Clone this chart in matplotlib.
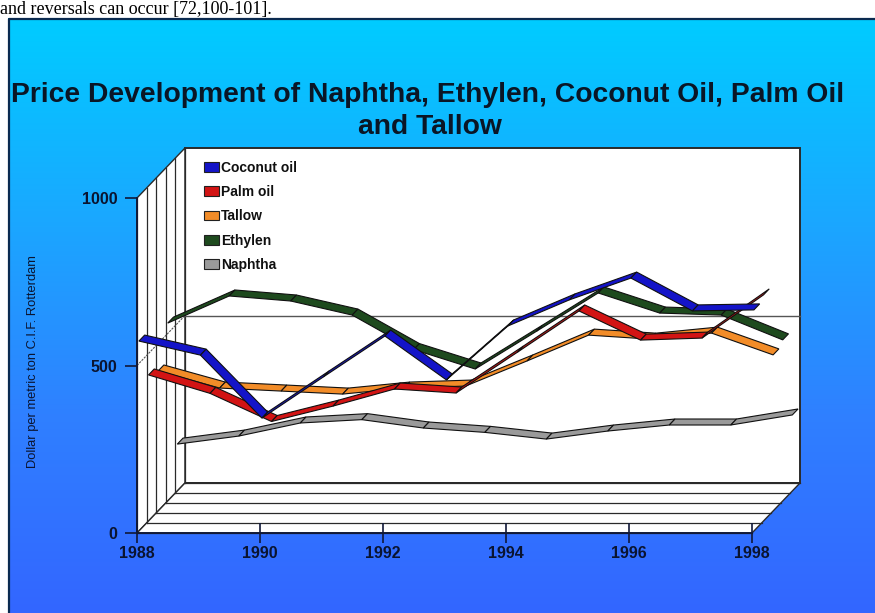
import numpy as np
import matplotlib
matplotlib.use("Agg")
import matplotlib.pyplot as plt
from matplotlib.patches import Polygon, Patch, Rectangle
from matplotlib.colors import LinearSegmentedColormap

# ---- data (US$ per metric ton) ----
years = [1988, 1989, 1990, 1991, 1992, 1993, 1994, 1995, 1996, 1997, 1998]
coconut = [567, 525, 337, 460, 582, 451, 612, 690, 755, 657, 660]
palm = [436, 381, 297, 343, 394, 382, 504, 627, 540, 546, 675]
tallow = [418, 367, 358, 349, 367, 373, 448, 525, 513, 531, 466]
ethylen = [531, 612, 597, 555, 452, 394, 507, 621, 561, 555, 481]
naphtha = [140, 164, 203, 213, 188, 175, 155, 179, 197, 197, 227]

series_names = ["Coconut oil", "Palm oil", "Tallow", "Ethylen", "Naphtha"]
series_values = [coconut, palm, tallow, ethylen, naphtha]
series_colors = ["#1414c8", "#d21414", "#f28c28", "#1e4a1e", "#9a9a9a"]

x_ticks = [1988, 1990, 1992, 1994, 1996, 1998]
y_ticks = [0, 500, 1000]

W, H = 875, 613
fig = plt.figure(figsize=(W / 100, H / 100), dpi=100)

# ---- page background with blue gradient panel ----
bg = fig.add_axes([0, 0, 1, 1])
bg.set_xlim(0, W)
bg.set_ylim(H, 0)
bg.axis("off")
bg.add_patch(Rectangle((0, 0), W, H, facecolor="white", edgecolor="none"))
grad_cmap = LinearSegmentedColormap.from_list(
    "panel", ["#00ccff", "#1aa8ff", "#2f80ff", "#3366ff"])
grad = np.linspace(0, 1, 256).reshape(-1, 1)
bg.imshow(grad, cmap=grad_cmap, aspect="auto", extent=[8, W, H, 18],
          zorder=1)
bg.plot([8.5, 8.5, W], [H, 18.5, 18.5], color="#0a2a50", lw=1.6, zorder=2)
fig.text(0.0, 1 - 14 / H, "and reversals can occur [72,100-101].",
         fontfamily="Liberation Serif", fontsize=13, color="black",
         ha="left", va="baseline", zorder=3)

title_kw = dict(fontfamily="Liberation Sans", fontweight="bold",
                fontsize=20.3, color="#0a1626", ha="center", va="center")
fig.text(428 / W, 1 - 95 / H,
         "Price Development of Naphtha, Ethylen, Coconut Oil, Palm Oil",
         **title_kw)
fig.text(430 / W, 1 - 127 / H, "and Tallow", **title_kw)

# ---- front plane of the 3-D chart ----
ax = fig.add_axes([137 / W, (H - 533) / H, 615 / W, 335 / H])
ax.set_xlim(1988, 1998)
ax.set_ylim(0, 1000)
ax.patch.set_visible(False)

n_slots = len(series_names)
DX = 0.156   # depth step along x (years per slot)
DY = 29.85   # depth step along y (value units per slot)
x0, x1 = years[0], years[-1]
ymax = 1000
edge = "#2a2a2a"

# back wall
back = Polygon([(x0 + n_slots * DX, n_slots * DY),
                (x1 + n_slots * DX, n_slots * DY),
                (x1 + n_slots * DX, ymax + n_slots * DY),
                (x0 + n_slots * DX, ymax + n_slots * DY)],
               closed=True, facecolor="white", edgecolor=edge, lw=1.4,
               clip_on=False, zorder=1)
ax.add_patch(back)
# left wall
left = Polygon([(x0, 0), (x0 + n_slots * DX, n_slots * DY),
                (x0 + n_slots * DX, ymax + n_slots * DY), (x0, ymax)],
               closed=True, facecolor="white", edgecolor=edge, lw=1.0,
               clip_on=False, zorder=1)
ax.add_patch(left)
# floor
floor = Polygon([(x0, 0), (x1, 0), (x1 + n_slots * DX, n_slots * DY),
                 (x0 + n_slots * DX, n_slots * DY)],
                closed=True, facecolor="white", edgecolor=edge, lw=1.0,
                clip_on=False, zorder=1)
ax.add_patch(floor)

for k in range(n_slots + 1):
    ax.plot([x0 + k * DX, x0 + k * DX], [k * DY, ymax + k * DY],
            color=edge, lw=0.9, clip_on=False, zorder=1.2)
    ax.plot([x0 + k * DX, x1 + k * DX], [k * DY, k * DY],
            color=edge, lw=0.9, clip_on=False, zorder=1.2)

# 500 gridline on back and left walls
ax.plot([x0 + n_slots * DX, x1 + n_slots * DX],
        [500 + n_slots * DY] * 2, color="#555555", lw=1.0,
        clip_on=False, zorder=1.3)
ax.plot([x0, x0 + n_slots * DX], [500, 500 + n_slots * DY],
        color="#555555", lw=0.8, ls=(0, (2, 1)), clip_on=False, zorder=1.3)

# ribbons, back series first
for i in reversed(range(n_slots)):
    vals = series_values[i]
    a, b = i + 0.2, i + 0.8
    for j in range(len(years) - 1):
        xa, xb = years[j], years[j + 1]
        va, vb = vals[j], vals[j + 1]
        poly = Polygon([(xa + a * DX, va + a * DY), (xb + a * DX, vb + a * DY),
                        (xb + b * DX, vb + b * DY), (xa + b * DX, va + b * DY)],
                       closed=True, facecolor=series_colors[i],
                       edgecolor="#101010", lw=0.8, clip_on=False,
                       zorder=3 + (n_slots - i))
        ax.add_patch(poly)

# axes, ticks and labels
for s in ("top", "right"):
    ax.spines[s].set_visible(False)
for s in ("left", "bottom"):
    ax.spines[s].set_color("#101838")
    ax.spines[s].set_linewidth(1.3)
    ax.spines[s].set_zorder(2)
ax.set_xticks(x_ticks)
ax.set_yticks(y_ticks)
ax.tick_params(axis="x", direction="inout", length=14, width=1.2,
               color="#101838", pad=2)
ax.tick_params(axis="y", direction="out", length=8.5, width=1.2,
               color="#101838", pad=5.5)
for lab in ax.get_xticklabels() + ax.get_yticklabels():
    lab.set_fontfamily("Liberation Sans")
    lab.set_fontweight("bold")
    lab.set_fontsize(11.5)
    lab.set_color("#0a1430")

ax.set_ylabel("Dollar per metric ton C.I.F. Rotterdam",
              fontfamily="Liberation Sans", fontsize=9.3, color="#0a1430")
ax.yaxis.set_label_coords((39 - 137) / 615, (533 - 362) / 335)

handles = [Patch(facecolor=c, edgecolor="#202020", lw=0.8)
           for c in series_colors]
leg = ax.legend(handles, series_names, loc="upper left",
                bbox_to_anchor=(198 / W, 1 - 155 / H),
                bbox_transform=fig.transFigure, frameon=False,
                handlelength=1.1, handleheight=0.7, handletextpad=0.15,
                labelspacing=0.75, borderaxespad=0,
                prop={"family": "Liberation Sans", "weight": "bold",
                      "size": 10})
leg.set_zorder(10)
for t in leg.get_texts():
    t.set_color("#101010")

fig.savefig("out.png", dpi=100)
